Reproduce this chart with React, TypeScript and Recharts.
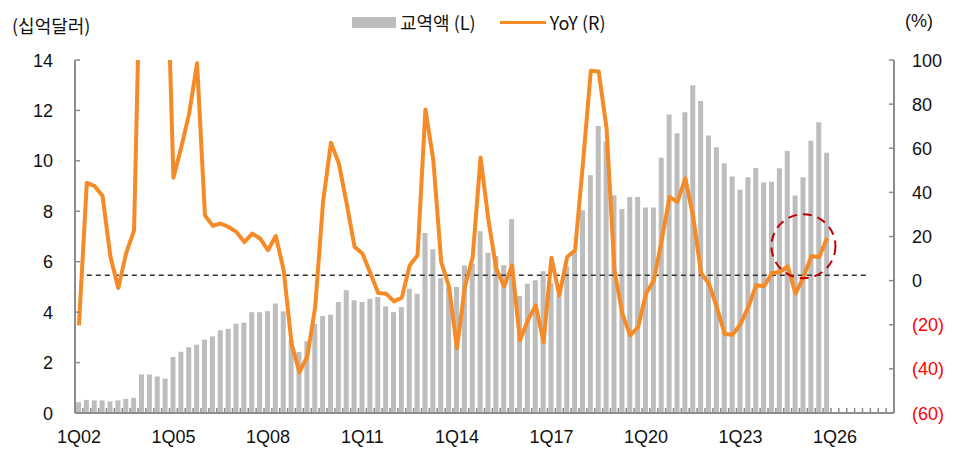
import { ComposedChart, Bar, Line, XAxis, YAxis, ReferenceLine, ReferenceDot } from 'recharts'

const YEARS = [
  2002, 2003, 2004, 2005, 2006, 2007, 2008, 2009, 2010, 2011, 2012, 2013, 2014,
  2015, 2016, 2017, 2018, 2019, 2020, 2021, 2022, 2023, 2024, 2025, 2026, 2027,
]
const QUARTERS: string[] = []
YEARS.forEach((y) => {
  for (let q = 1; q <= 4; q++) QUARTERS.push(`${q}Q${String(y).slice(2)}`)
})

const X_LABELS = ['1Q02', '1Q05', '1Q08', '1Q11', '1Q14', '1Q17', '1Q20', '1Q23', '1Q26']
const LEFT_TICKS = [0, 2, 4, 6, 8, 10, 12, 14]
const RIGHT_TICKS = [-60, -40, -20, 0, 20, 40, 60, 80, 100]

// 교역액, 십억달러 (1Q02 ~ 4Q25)
const TRADE = [
  0.43, 0.52, 0.5, 0.5, 0.46, 0.5, 0.56, 0.6, 1.53, 1.53, 1.45, 1.36,
  2.22, 2.43, 2.61, 2.71, 2.91, 3.04, 3.28, 3.34, 3.54, 3.58, 4.0, 4.0,
  4.04, 4.34, 4.03, 2.9, 2.42, 2.85, 3.54, 3.85, 3.9, 4.4, 4.87, 4.47,
  4.4, 4.53, 4.6, 4.23, 4.0, 4.2, 4.93, 4.73, 7.14, 6.49, 5.35, 5.0,
  5.0, 5.85, 5.92, 7.21, 6.36, 6.23, 5.86, 7.69, 4.64, 5.13, 5.26, 5.62,
  5.15, 4.7, 5.82, 6.39, 8.04, 9.43, 11.38, 10.78, 8.64, 8.09, 8.57, 8.57,
  8.15, 8.15, 10.12, 11.84, 11.09, 11.93, 13.0, 12.37, 11.01, 10.54, 9.91, 9.38,
  8.85, 9.35, 9.72, 9.14, 9.17, 9.71, 10.39, 8.63, 9.35, 10.8, 11.53, 10.32,
]

// YoY, %
const YOY = [
  -20.3, 44.3, 42.8, 38.4, 10.7, -3.3, 12.5, 22.8, 180, 210, 200, 168,
  46.6, 60.6, 75.8, 98.5, 29.6, 24.8, 25.9, 24.3, 22.1, 17.5, 21.3, 19.1,
  13.8, 20.2, 4.7, -28.6, -41.5, -34.4, -12.0, 35.7, 62.5, 53.2, 34.9, 15.3,
  12.3, 3.5, -5.6, -5.9, -9.4, -7.7, 6.9, 11.5, 77.6, 54.6, 8.5, -2.9,
  -30.6, -3.0, 10.7, 55.8, 27.4, 5.4, -2.6, 6.9, -27.1, -18.0, -11.2, -27.9,
  10.4, -6.7, 10.7, 13.8, 53.1, 95.1, 94.8, 69.0, 4.7, -15.0, -24.8, -21.1,
  -5.9, 0.1, 18.3, 37.9, 35.7, 46.3, 28.9, 3.5, -1.4, -12.0, -24.2, -24.5,
  -19.8, -12.0, -2.1, -2.6, 3.5, 3.9, 6.5, -5.9, 1.6, 11.0, 10.7, 19.3,
]

const DASH_LEVEL = 2.4
const CIRCLE_AT = { idx: 92, yoy: 15.6 }

const data = QUARTERS.map((q, i) => ({
  q,
  trade: i < TRADE.length ? TRADE[i] : null,
  yoy: i < YOY.length ? YOY[i] : null,
}))

const FONT = "Arial, 'Liberation Sans', 'Noto Sans CJK KR', sans-serif"
const KFONT = "'Noto Sans CJK KR', Arial, sans-serif"
const AXIS = '#8c8c8c'

function XTick(props: any) {
  const { x, y, payload } = props
  const off = payload.offset ?? 3.94
  return (
    <g>
      <line x1={x - off} x2={x - off} y1={y} y2={y - 5} stroke={AXIS} strokeWidth={1.5} />
      {X_LABELS.includes(payload.value) && (
        <text x={x} y={y + 30} textAnchor="middle" fontSize={18} fontFamily={FONT} fill="#111">
          {payload.value}
        </text>
      )}
    </g>
  )
}

function LeftTick(props: any) {
  const { x, y, payload } = props
  return (
    <g>
      <line x1={x} x2={x + 5} y1={y} y2={y} stroke={AXIS} strokeWidth={1.5} />
      <text x={x - 22} y={y + 6.5} textAnchor="end" fontSize={18} fontFamily={FONT} fill="#111">
        {payload.value}
      </text>
    </g>
  )
}

function RightTick(props: any) {
  const { x, y, payload } = props
  const v = payload.value as number
  return (
    <g>
      <line x1={x} x2={x - 5} y1={y} y2={y} stroke={AXIS} strokeWidth={1.5} />
      <text x={x + 18} y={y + 6.5} textAnchor="start" fontSize={18} fontFamily={FONT} fill={v < 0 ? '#ff0000' : '#111'}>
        {v < 0 ? `(${-v})` : v}
      </text>
    </g>
  )
}

export default function App() {
  return (
    <div style={{ position: 'absolute', left: 0, top: 0, width: 962, height: 453, background: '#fff' }}>
      <span style={{ position: 'absolute', left: 12, top: 13, fontSize: 18, fontFamily: KFONT, color: '#111', lineHeight: '24px' }}>
        (십억달러)
      </span>
      <span style={{ position: 'absolute', left: 905, top: 9, fontSize: 18, fontFamily: FONT, color: '#111', lineHeight: '24px' }}>
        (%)
      </span>
      <div style={{ position: 'absolute', left: 352, top: 10, height: 24, display: 'flex', alignItems: 'center', fontSize: 18, fontFamily: KFONT, color: '#111' }}>
        <span style={{ width: 44, height: 11, background: '#bdbdbd', display: 'inline-block', marginRight: 4 }} />
        <span>교역액 (L)</span>
        <span style={{ width: 46, height: 3, background: '#f58a26', display: 'inline-block', margin: '0 4px 0 24px' }} />
        <span>YoY (R)</span>
      </div>
      <ComposedChart
        width={962}
        height={453}
        data={data}
        margin={{ top: 60, right: 0, left: 0, bottom: 0 }}
        style={{ position: 'absolute', left: 0, top: 0 }}
      >
        <XAxis
          dataKey="q"
          interval={0}
          height={40}
          tickSize={0}
          tickMargin={0}
          tick={<XTick />}
          axisLine={{ stroke: AXIS, strokeWidth: 2 }}
          tickLine={false}
        />
        <YAxis
          yAxisId="left"
          orientation="left"
          width={75}
          domain={[0, 14]}
          ticks={LEFT_TICKS}
          interval={0}
          tickSize={0}
          tickMargin={0}
          tick={<LeftTick />}
          axisLine={{ stroke: AXIS, strokeWidth: 2 }}
          tickLine={false}
        />
        <YAxis
          yAxisId="right"
          orientation="right"
          width={68}
          domain={[-60, 100]}
          ticks={RIGHT_TICKS}
          interval={0}
          allowDataOverflow
          tickSize={0}
          tickMargin={0}
          tick={<RightTick />}
          axisLine={{ stroke: AXIS, strokeWidth: 2 }}
          tickLine={false}
        />
        <Bar yAxisId="left" dataKey="trade" fill="#bdbdbd" barSize={5} isAnimationActive={false} />
        <ReferenceLine
          yAxisId="right"
          segment={[
            { x: QUARTERS[1], y: DASH_LEVEL },
            { x: QUARTERS[100], y: DASH_LEVEL },
          ]}
          stroke="#333"
          strokeWidth={1.5}
          strokeDasharray="5 4"
        />
        <Line
          yAxisId="right"
          dataKey="yoy"
          stroke="#f58a26"
          strokeWidth={4}
          dot={false}
          activeDot={false}
          strokeLinejoin="round"
          isAnimationActive={false}
        />
        <ReferenceDot
          yAxisId="right"
          x={QUARTERS[CIRCLE_AT.idx]}
          y={CIRCLE_AT.yoy}
          r={32}
          fill="none"
          stroke="#c00000"
          strokeWidth={2}
          strokeDasharray="9 6"
        />
      </ComposedChart>
    </div>
  )
}
